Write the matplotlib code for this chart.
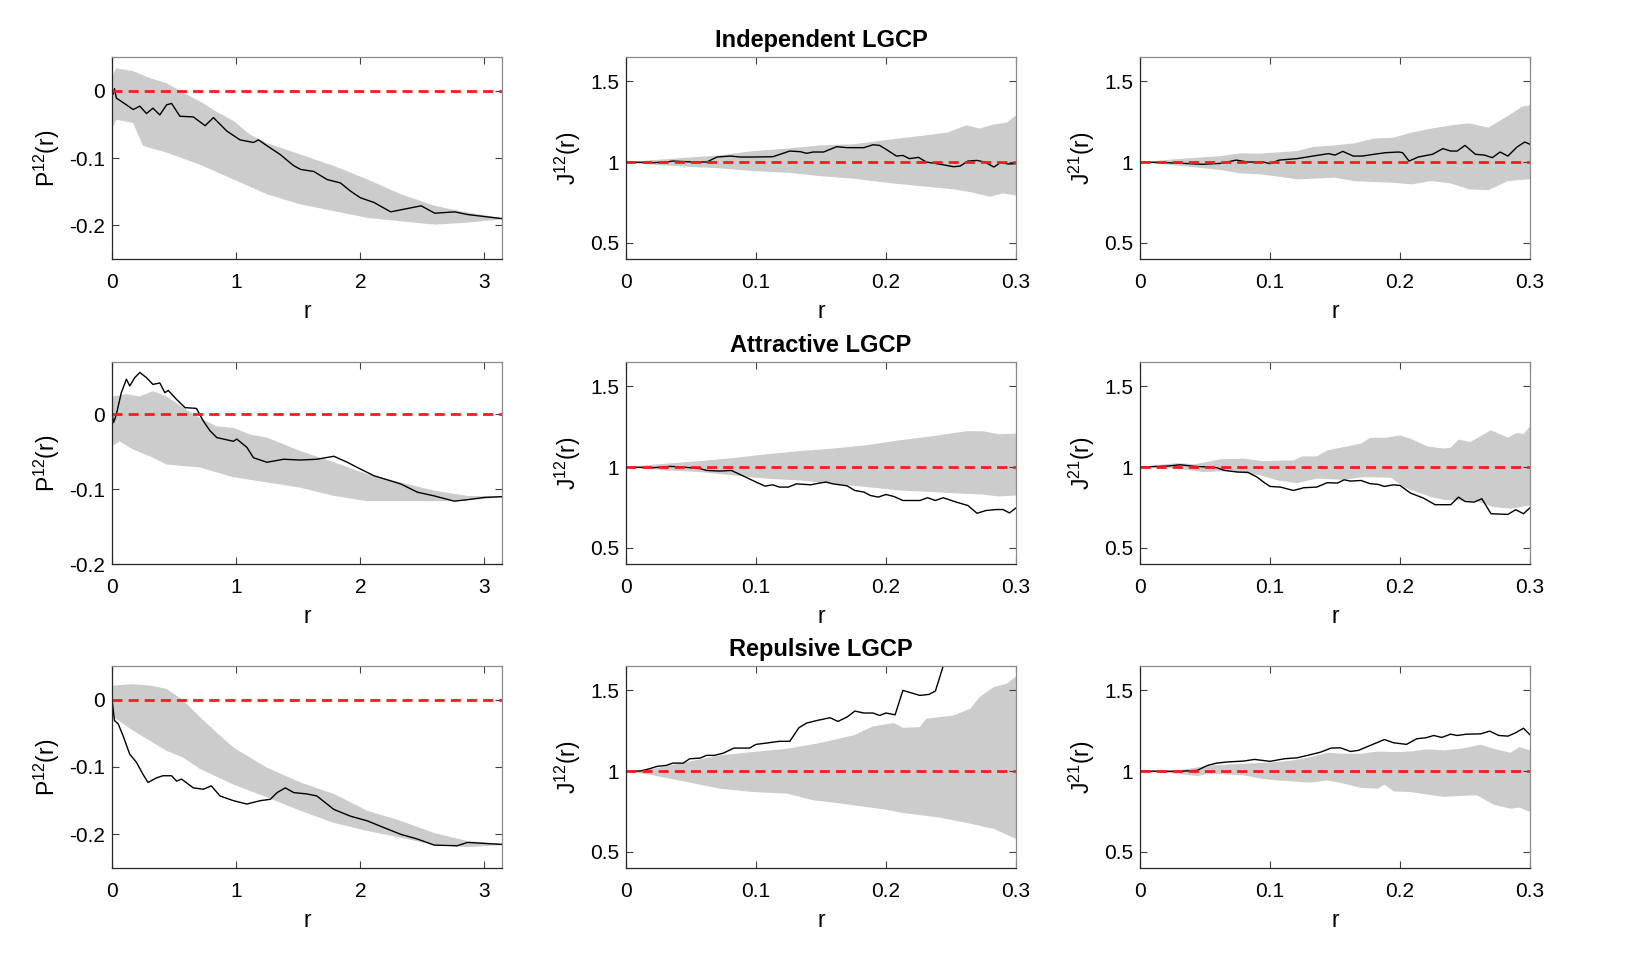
"""
Envelope plots for the three bivariate LGCP scenarios: the P12 statistic on the
left, the cross J-functions J12 / J21 in the middle and right columns.
Grey band = simulation envelope, black = observed, red dashed = reference.
"""

import numpy as np
import matplotlib
matplotlib.use('Agg')
import matplotlib.pyplot as plt

plt.rcParams['font.family'] = ['Liberation Sans', 'DejaVu Sans']
plt.rcParams['mathtext.fontset'] = 'custom'
plt.rcParams['mathtext.rm'] = 'Liberation Sans'
plt.rcParams['axes.unicode_minus'] = False

# ---- independent LGCP -------------------------------------------------------
ind_p12_r = [0, 0.01, 0.02, 0.035, 0.116, 0.17, 0.224, 0.278, 0.33, 0.385, 0.44, 0.48, 0.547,
             0.655, 0.75, 0.817, 0.925, 1.03, 1.14, 1.18, 1.25, 1.356, 1.46, 1.52, 1.625, 1.733,
             1.84, 1.92, 2.0, 2.11, 2.245, 2.326, 2.49, 2.6, 2.76, 2.865, 3.14]
ind_p12 = [0, -0.005, 0.003, -0.011, -0.021, -0.028, -0.023, -0.034, -0.026, -0.036, -0.021,
           -0.019, -0.038, -0.039, -0.052, -0.040, -0.060, -0.073, -0.077, -0.073, -0.082, -0.095,
           -0.111, -0.117, -0.120, -0.132, -0.137, -0.149, -0.159, -0.166, -0.180, -0.177, -0.171,
           -0.182, -0.180, -0.184, -0.190]
ind_p12_hi_r = [0, 0.01, 0.035, 0.17, 0.30, 0.44, 0.574, 0.71, 0.84, 0.98, 1.11, 1.25, 1.52,
                1.79, 2.06, 2.33, 2.6, 2.865, 3.14]
ind_p12_hi = [0.0, 0.025, 0.033, 0.029, 0.019, 0.011, -0.003, -0.016, -0.031, -0.045, -0.065,
              -0.078, -0.095, -0.112, -0.132, -0.154, -0.171, -0.181, -0.189]
ind_p12_lo_r = [0, 0.01, 0.035, 0.17, 0.25, 0.44, 0.71, 0.98, 1.25, 1.52, 1.79, 2.06, 2.33,
                2.6, 2.865, 3.14]
ind_p12_lo = [0.0, -0.053, -0.043, -0.048, -0.082, -0.092, -0.110, -0.132, -0.154, -0.169,
              -0.179, -0.189, -0.194, -0.199, -0.196, -0.191]

ind_j12_r = [0, 0.021, 0.031, 0.036, 0.052, 0.062, 0.07, 0.08, 0.088, 0.098, 0.113, 0.126, 0.134,
             0.139, 0.144, 0.152, 0.162, 0.17, 0.183, 0.19, 0.195, 0.2, 0.208, 0.213, 0.218,
             0.225, 0.231, 0.242, 0.252, 0.257, 0.263, 0.27, 0.276, 0.283, 0.288, 0.294, 0.3]
ind_j12 = [1.0, 0.996, 1.0, 1.006, 1.0, 1.0, 1.031, 1.037, 1.031, 1.031, 1.033, 1.068, 1.064,
           1.054, 1.062, 1.062, 1.095, 1.089, 1.089, 1.107, 1.103, 1.079, 1.037, 1.041, 1.021,
           1.029, 1.0, 0.986, 0.971, 0.975, 1.006, 1.010, 1.0, 0.969, 0.996, 0.988, 0.990]
ind_j12_hi_r = [0, 0.021, 0.047, 0.072, 0.098, 0.124, 0.149, 0.175, 0.2, 0.226, 0.247, 0.262,
                0.272, 0.283, 0.293, 0.3]
ind_j12_hi = [1.0, 1.012, 1.027, 1.041, 1.068, 1.083, 1.103, 1.110, 1.136, 1.161, 1.182, 1.227,
              1.207, 1.233, 1.244, 1.289]
ind_j12_lo_r = [0, 0.021, 0.047, 0.072, 0.098, 0.124, 0.149, 0.175, 0.2, 0.226, 0.252, 0.265,
                0.28, 0.29, 0.3]
ind_j12_lo = [1.0, 0.983, 0.971, 0.961, 0.944, 0.934, 0.913, 0.897, 0.872, 0.851, 0.831, 0.814,
              0.785, 0.806, 0.793]

ind_j21_r = [0, 0.021, 0.033, 0.048, 0.0625, 0.074, 0.083, 0.095, 0.1, 0.107, 0.121, 0.133,
             0.145, 0.15, 0.156, 0.164, 0.171, 0.18, 0.189, 0.199, 0.202, 0.207, 0.214, 0.225,
             0.233, 0.239, 0.244, 0.25, 0.258, 0.265, 0.271, 0.277, 0.283, 0.29, 0.296, 0.3]
ind_j21 = [1.0, 0.996, 0.992, 0.986, 0.992, 1.012, 1.0, 1.0, 0.990, 1.012, 1.021, 1.037, 1.052,
           1.043, 1.066, 1.037, 1.037, 1.048, 1.058, 1.062, 1.058, 1.006, 1.031, 1.048, 1.083,
           1.068, 1.068, 1.103, 1.048, 1.043, 1.027, 1.062, 1.037, 1.093, 1.124, 1.110]
ind_j21_hi_r = [0, 0.033, 0.0625, 0.077, 0.092, 0.121, 0.133, 0.15, 0.165, 0.18, 0.195, 0.209,
                0.224, 0.239, 0.253, 0.268, 0.283, 0.294, 0.3]
ind_j21_hi = [1.0, 1.021, 1.037, 1.054, 1.052, 1.068, 1.093, 1.103, 1.116, 1.145, 1.151, 1.182,
              1.207, 1.227, 1.240, 1.213, 1.285, 1.343, 1.351]
ind_j21_lo_r = [0, 0.033, 0.0625, 0.077, 0.092, 0.107, 0.121, 0.15, 0.165, 0.18, 0.195, 0.209,
                0.224, 0.239, 0.253, 0.268, 0.283, 0.3]
ind_j21_lo = [1.0, 0.975, 0.950, 0.930, 0.924, 0.909, 0.893, 0.903, 0.882, 0.876, 0.872, 0.862,
              0.882, 0.868, 0.831, 0.826, 0.882, 0.893]

# ---- attractive LGCP --------------------------------------------------------
att_p12_r = [0, 0.013, 0.035, 0.075, 0.116, 0.143, 0.183, 0.224, 0.278, 0.33, 0.385, 0.426,
             0.453, 0.52, 0.588, 0.68, 0.736, 0.79, 0.844, 0.978, 1.005, 1.086, 1.14, 1.248,
             1.383, 1.518, 1.65, 1.787, 1.895, 2.0, 2.11, 2.326, 2.46, 2.596, 2.757, 2.865, 3.0,
             3.14]
att_p12 = [0, -0.011, 0, 0.029, 0.047, 0.038, 0.049, 0.056, 0.049, 0.040, 0.042, 0.029, 0.032,
           0.020, 0.009, 0.008, -0.009, -0.022, -0.031, -0.036, -0.033, -0.044, -0.058, -0.064,
           -0.060, -0.061, -0.060, -0.056, -0.064, -0.073, -0.082, -0.093, -0.104, -0.109,
           -0.116, -0.114, -0.111, -0.110]
att_p12_hi_r = [0, 0.01, 0.116, 0.224, 0.33, 0.44, 0.574, 0.71, 0.844, 0.978, 1.113, 1.248,
                1.518, 1.787, 2.057, 2.326, 2.596, 2.865, 3.14]
att_p12_hi = [0, 0.024, 0.027, 0.024, 0.031, 0.024, 0.009, -0.005, -0.016, -0.018, -0.027,
              -0.031, -0.049, -0.064, -0.080, -0.091, -0.102, -0.109, -0.110]
att_p12_lo_r = [0, 0.01, 0.062, 0.17, 0.305, 0.44, 0.574, 0.71, 0.978, 1.248, 1.518, 1.787,
                2.057, 2.326, 2.596, 2.865, 3.14]
att_p12_lo = [0, -0.042, -0.036, -0.047, -0.056, -0.067, -0.069, -0.071, -0.084, -0.091,
              -0.098, -0.109, -0.116, -0.116, -0.116, -0.115, -0.111]

att_j12_r = [0, 0.021, 0.034, 0.044, 0.057, 0.062, 0.072, 0.081, 0.093, 0.1, 0.107, 0.113,
             0.118, 0.125, 0.131, 0.142, 0.149, 0.154, 0.159, 0.17, 0.176, 0.183, 0.188, 0.194,
             0.2, 0.206, 0.213, 0.226, 0.232, 0.238, 0.244, 0.254, 0.263, 0.27, 0.277, 0.285,
             0.29, 0.295, 0.3]
att_j12 = [1.0, 0.996, 1.004, 1.0, 0.990, 0.979, 0.975, 0.979, 0.934, 0.907, 0.882, 0.890,
           0.876, 0.876, 0.896, 0.890, 0.901, 0.907, 0.896, 0.884, 0.855, 0.845, 0.824, 0.814,
           0.830, 0.818, 0.793, 0.793, 0.810, 0.793, 0.810, 0.783, 0.762, 0.714, 0.731, 0.737,
           0.737, 0.716, 0.747]
att_j12_band_r = [0, 0.031, 0.057, 0.083, 0.108, 0.134, 0.159, 0.185, 0.211, 0.236, 0.262,
                  0.274, 0.287, 0.3]
att_j12_hi = [1.0, 1.021, 1.037, 1.056, 1.079, 1.099, 1.114, 1.135, 1.166, 1.191, 1.222, 1.222,
              1.203, 1.207]
att_j12_lo = [1.0, 0.979, 0.969, 0.948, 0.928, 0.917, 0.896, 0.876, 0.855, 0.845, 0.834, 0.830,
              0.818, 0.824]

att_j21_r = [0, 0.021, 0.031, 0.042, 0.054, 0.059, 0.065, 0.075, 0.083, 0.09, 0.095, 0.1, 0.108,
             0.118, 0.126, 0.136, 0.144, 0.152, 0.157, 0.162, 0.17, 0.177, 0.183, 0.188, 0.195,
             0.2, 0.208, 0.218, 0.227, 0.239, 0.245, 0.25, 0.257, 0.263, 0.27, 0.283, 0.289,
             0.295, 0.3]
att_j21 = [1.0, 1.006, 1.014, 1.004, 1.0, 0.996, 0.979, 0.969, 0.967, 0.938, 0.907, 0.880,
           0.876, 0.855, 0.872, 0.876, 0.903, 0.901, 0.921, 0.913, 0.917, 0.897, 0.893, 0.880,
           0.890, 0.886, 0.839, 0.808, 0.767, 0.767, 0.814, 0.787, 0.783, 0.804, 0.711, 0.707,
           0.736, 0.711, 0.748]
att_j21_hi_r = [0, 0.029, 0.042, 0.062, 0.08, 0.093, 0.118, 0.125, 0.136, 0.144, 0.157, 0.17,
                0.177, 0.19, 0.2, 0.208, 0.221, 0.234, 0.239, 0.245, 0.254, 0.27, 0.283, 0.29,
                0.295, 0.3]
att_j21_hi = [1.0, 1.025, 1.017, 1.048, 1.052, 1.037, 1.041, 1.066, 1.066, 1.103, 1.124, 1.145,
              1.180, 1.182, 1.196, 1.176, 1.128, 1.114, 1.120, 1.170, 1.155, 1.227, 1.182, 1.211,
              1.203, 1.252]
att_j21_lo_r = [0, 0.029, 0.049, 0.067, 0.093, 0.106, 0.121, 0.136, 0.157, 0.172, 0.193, 0.203,
                0.213, 0.224, 0.234, 0.247, 0.259, 0.272, 0.285, 0.3]
att_j21_lo = [1.0, 0.990, 0.969, 0.975, 0.948, 0.917, 0.901, 0.928, 0.921, 0.938, 0.934, 0.876,
              0.845, 0.814, 0.797, 0.793, 0.789, 0.752, 0.742, 0.762]

# ---- repulsive LGCP ---------------------------------------------------------
rep_p12_r = [0, 0.02, 0.05, 0.09, 0.143, 0.197, 0.25, 0.29, 0.36, 0.41, 0.48, 0.52, 0.56,
             0.655, 0.736, 0.80, 0.87, 0.978, 1.086, 1.194, 1.275, 1.33, 1.396, 1.464, 1.57,
             1.65, 1.787, 1.92, 2.057, 2.19, 2.326, 2.46, 2.596, 2.78, 2.865, 3.14]
rep_p12 = [0, -0.031, -0.036, -0.054, -0.081, -0.093, -0.111, -0.123, -0.116, -0.113, -0.113,
           -0.121, -0.118, -0.131, -0.133, -0.128, -0.143, -0.150, -0.155, -0.150, -0.148,
           -0.138, -0.131, -0.138, -0.140, -0.143, -0.163, -0.173, -0.180, -0.190, -0.200,
           -0.207, -0.216, -0.217, -0.212, -0.215]
rep_p12_hi_r = [0, 0.01, 0.17, 0.305, 0.44, 0.574, 0.71, 0.844, 0.978, 1.113, 1.248, 1.518,
                1.787, 2.057, 2.326, 2.596, 2.865, 3.14]
rep_p12_hi = [0, 0.021, 0.023, 0.021, 0.016, -0.001, -0.026, -0.049, -0.071, -0.086, -0.101,
              -0.123, -0.140, -0.165, -0.180, -0.198, -0.210, -0.214]
rep_p12_lo_r = [0, 0.01, 0.17, 0.305, 0.44, 0.574, 0.71, 0.978, 1.248, 1.518, 1.787, 2.057,
                2.326, 2.596, 2.865, 3.14]
rep_p12_lo = [0, -0.026, -0.046, -0.061, -0.076, -0.086, -0.103, -0.126, -0.145, -0.165,
              -0.183, -0.195, -0.205, -0.216, -0.219, -0.216]

rep_j12_r = [0, 0.011, 0.018, 0.024, 0.031, 0.036, 0.044, 0.049, 0.057, 0.062, 0.068, 0.075,
             0.083, 0.095, 0.1, 0.108, 0.118, 0.126, 0.133, 0.139, 0.147, 0.157, 0.163, 0.17,
             0.176, 0.183, 0.19, 0.195, 0.2, 0.207, 0.213, 0.226, 0.233, 0.238, 0.244, 0.25]
rep_j12 = [1.0, 1.0, 1.014, 1.029, 1.035, 1.049, 1.049, 1.076, 1.080, 1.097, 1.097, 1.111,
           1.142, 1.142, 1.165, 1.173, 1.184, 1.184, 1.268, 1.297, 1.313, 1.330, 1.307, 1.334,
           1.371, 1.359, 1.359, 1.344, 1.359, 1.348, 1.499, 1.468, 1.474, 1.495, 1.65, 1.80]
rep_j12_hi_r = [0, 0.021, 0.047, 0.072, 0.098, 0.124, 0.149, 0.175, 0.19, 0.206, 0.213, 0.226,
                0.231, 0.252, 0.265, 0.272, 0.283, 0.293, 0.3]
rep_j12_hi = [1.0, 1.014, 1.056, 1.097, 1.118, 1.138, 1.173, 1.221, 1.276, 1.297, 1.268, 1.272,
              1.324, 1.344, 1.386, 1.458, 1.520, 1.540, 1.586]
rep_j12_lo_r = [0, 0.021, 0.047, 0.072, 0.098, 0.124, 0.144, 0.162, 0.175, 0.2, 0.213, 0.239,
                0.265, 0.283, 0.3]
rep_j12_lo = [1.0, 0.973, 0.932, 0.891, 0.870, 0.860, 0.819, 0.802, 0.788, 0.761, 0.740, 0.715,
              0.674, 0.642, 0.580]

rep_j21_r = [0, 0.029, 0.044, 0.052, 0.059, 0.067, 0.08, 0.088, 0.1, 0.111, 0.121, 0.131, 0.139,
             0.147, 0.154, 0.162, 0.168, 0.177, 0.188, 0.195, 0.205, 0.213, 0.22, 0.226, 0.232,
             0.239, 0.244, 0.251, 0.262, 0.269, 0.276, 0.283, 0.289, 0.295, 0.3]
rep_j21 = [1.0, 0.998, 1.004, 1.035, 1.049, 1.056, 1.062, 1.072, 1.060, 1.076, 1.082, 1.101,
           1.117, 1.142, 1.144, 1.121, 1.128, 1.158, 1.195, 1.175, 1.165, 1.200, 1.206, 1.220,
           1.208, 1.228, 1.220, 1.228, 1.230, 1.247, 1.220, 1.216, 1.237, 1.265, 1.224]
rep_j21_hi_r = [0, 0.029, 0.054, 0.08, 0.106, 0.118, 0.131, 0.144, 0.157, 0.17, 0.183, 0.195,
                0.208, 0.221, 0.234, 0.247, 0.262, 0.272, 0.285, 0.292, 0.3]
rep_j21_hi = [1.0, 1.004, 1.035, 1.045, 1.056, 1.066, 1.086, 1.113, 1.107, 1.107, 1.121, 1.117,
              1.121, 1.134, 1.128, 1.138, 1.163, 1.138, 1.113, 1.148, 1.128]
rep_j21_lo_r = [0, 0.029, 0.044, 0.054, 0.08, 0.093, 0.106, 0.131, 0.144, 0.157, 0.17, 0.183,
                0.188, 0.195, 0.208, 0.221, 0.234, 0.247, 0.259, 0.272, 0.285, 0.292, 0.3]
rep_j21_lo = [1.0, 0.984, 0.969, 0.984, 0.973, 0.953, 0.942, 0.928, 0.942, 0.922, 0.895, 0.891,
              0.916, 0.874, 0.870, 0.854, 0.840, 0.846, 0.850, 0.792, 0.767, 0.774, 0.747]

row_titles = ['Independent LGCP', 'Attractive LGCP', 'Repulsive LGCP']
p12_ylims = [(-0.25, 0.05), (-0.2, 0.07), (-0.25, 0.05)]

# (observed r, observed, upper r, upper, lower r, lower) per panel, row by row
panels = [
    [(ind_p12_r, ind_p12, ind_p12_hi_r, ind_p12_hi, ind_p12_lo_r, ind_p12_lo),
     (ind_j12_r, ind_j12, ind_j12_hi_r, ind_j12_hi, ind_j12_lo_r, ind_j12_lo),
     (ind_j21_r, ind_j21, ind_j21_hi_r, ind_j21_hi, ind_j21_lo_r, ind_j21_lo)],
    [(att_p12_r, att_p12, att_p12_hi_r, att_p12_hi, att_p12_lo_r, att_p12_lo),
     (att_j12_r, att_j12, att_j12_band_r, att_j12_hi, att_j12_band_r, att_j12_lo),
     (att_j21_r, att_j21, att_j21_hi_r, att_j21_hi, att_j21_lo_r, att_j21_lo)],
    [(rep_p12_r, rep_p12, rep_p12_hi_r, rep_p12_hi, rep_p12_lo_r, rep_p12_lo),
     (rep_j12_r, rep_j12, rep_j12_hi_r, rep_j12_hi, rep_j12_lo_r, rep_j12_lo),
     (rep_j21_r, rep_j21, rep_j21_hi_r, rep_j21_hi, rep_j21_lo_r, rep_j21_lo)],
]
ylabels = [r'P$^{\mathrm{12}}$(r)', r'J$^{\mathrm{12}}$(r)', r'J$^{\mathrm{21}}$(r)']

FS = 15          # tick labels
FS_LAB = 16.5    # axis labels (MATLAB uses 1.1x)
FS_TITLE = 17
W, H = 1628, 956
col_left = [112, 626, 1140]
row_top = [57, 362, 666]
ax_w, ax_h = 390, 202

fig = plt.figure(figsize=(W / 100, H / 100), dpi=100)

for i in range(3):
    for j in range(3):
        r, obs, hr, hi, lr, lo = panels[i][j]
        rect = [col_left[j] / W, 1 - (row_top[i] + ax_h) / H, ax_w / W, ax_h / H]
        ax = fig.add_axes(rect)

        # envelope polygon: upper edge forward, lower edge back
        ax.fill(np.r_[hr, lr[::-1]], np.r_[hi, lo[::-1]], color='#cccccc', lw=0)
        ax.plot(r, obs, color='black', lw=1.0)

        if j == 0:
            ref = 0.0
            ax.set_xlim(0, np.pi)
            ax.set_ylim(*p12_ylims[i])
            ax.set_xticks([0, 1, 2, 3])
            ax.set_yticks([-0.2, -0.1, 0])
            ax.set_yticklabels(['-0.2', '-0.1', '0'])
        else:
            ref = 1.0
            ax.set_xlim(0, 0.3)
            ax.set_ylim(0.4, 1.65)
            ax.set_xticks([0, 0.1, 0.2, 0.3])
            ax.set_xticklabels(['0', '0.1', '0.2', '0.3'])
            ax.set_yticks([0.5, 1, 1.5])
            ax.set_yticklabels(['0.5', '1', '1.5'])
        ax.axhline(ref, color='#ff1a1a', lw=2.0, ls=(0, (3.6, 2.2)))

        ax.set_ylabel(ylabels[j], fontsize=FS_LAB, labelpad=5)
        ax.set_xlabel('r', fontsize=FS_LAB, labelpad=6)
        ax.tick_params(direction='in', length=5, width=0.8, top=True, right=True,
                       labelsize=FS, color='#404040')
        ax.tick_params(axis='x', pad=10)
        ax.tick_params(axis='y', pad=5)
        for side in ('left', 'bottom'):
            ax.spines[side].set_color('#262626')
        for side in ('top', 'right'):
            ax.spines[side].set_color('#8a8a8a')
        for s in ax.spines.values():
            s.set_linewidth(0.9)

        if j == 1:
            ax.set_title(row_titles[i], fontsize=FS_TITLE, fontweight='bold', pad=7)

fig.savefig('out.png', dpi=100)
